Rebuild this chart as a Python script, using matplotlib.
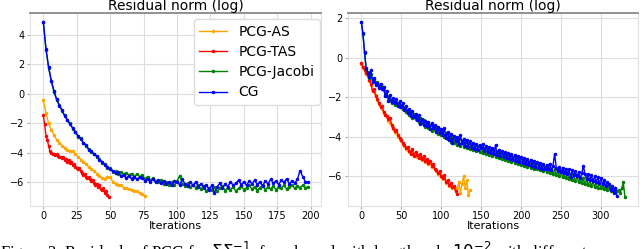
import numpy as np
import matplotlib
matplotlib.use("Agg")
import matplotlib.pyplot as plt

# ---- data: log residual norm per iteration ----
labels = ["PCG-AS", "PCG-TAS", "PCG-Jacobi", "CG"]
colors = ["orange", "red", "green", "blue"]

# left panel
left_as = [-0.4, -1.3, -2.0, -2.45, -2.8, -3.1, -3.3, -3.5, -3.65, -3.8,
           -3.9, -3.85, -4.05, -4.25, -4.45, -4.6, -4.75, -4.95, -5.1, -5.25,
           -5.4, -5.55, -5.7, -5.75, -5.6, -5.65, -5.95, -6.1, -6.15, -6.2,
           -6.35, -6.4, -6.45, -6.5, -6.55, -6.6, -6.7, -6.8, -6.95]  # step 2
left_tas = [-1.46, -2.07, -2.86, -3.1, -3.55, -3.9, -4.0, -4.1, -4.05, -4.15,
            -4.1, -4.2, -4.3, -4.25, -4.35, -4.3, -4.45, -4.4, -4.6, -4.5,
            -4.7, -4.6, -4.8, -4.75, -4.95, -5.0, -5.1, -5.0, -5.25, -5.35,
            -5.5, -5.4, -5.6, -5.7, -5.65, -5.8, -5.9, -5.85, -6.05, -6.15,
            -6.1, -6.3, -6.2, -6.45, -6.5, -6.4, -6.7, -6.6, -6.85, -7.0]  # step 1
left_jac = [4.85, 3.0, 1.75, 0.85, 0.1, -0.4, -0.75, -1.15, -1.45, -1.8,
            -2.0, -2.35, -2.55, -2.9, -3.0, -3.35, -3.5, -3.75, -3.95, -4.05,
            -4.25, -4.4, -4.65, -4.75, -5.0, -5.05, -5.3, -5.25, -5.4, -5.3,
            -5.45, -5.35, -5.5, -5.4, -5.6, -5.45, -5.6, -5.5, -5.75, -5.6,
            -5.85, -5.7, -5.9, -6.0, -5.85, -6.1, -5.95, -6.15, -6.0, -6.2,
            -5.9, -5.55, -6.1, -6.25, -6.05, -6.3, -6.15, -6.35, -6.2, -6.45,
            -6.25, -6.6, -6.35, -6.5, -6.3, -6.6, -6.4, -6.25, -6.55, -6.35,
            -6.5, -6.3, -6.6, -6.4, -6.25, -6.5, -6.35, -6.2, -6.45, -6.3,
            -6.55, -6.35, -6.2, -6.5, -6.3, -6.45, -6.25, -6.5, -6.3, -6.4,
            -6.2, -6.45, -6.3, -6.15, -6.4, -6.25, -6.35, -6.2, -6.35, -6.3]  # step 2
left_cg = [4.9, 3.05, 1.8, 0.9, 0.2, -0.36, -0.8, -1.1, -1.5, -1.75,
           -2.07, -2.3, -2.6, -2.85, -3.05, -3.3, -3.45, -3.8, -3.9, -4.1,
           -4.2, -4.45, -4.6, -4.8, -4.95, -5.1, -5.2, -5.35, -5.3, -5.55,
           -5.5, -5.7, -5.55, -5.75, -5.6, -5.8, -5.65, -5.7, -5.9, -5.75,
           -5.95, -5.8, -6.0, -5.85, -6.05, -5.9, -6.1, -5.95, -6.2, -5.9,
           -6.0, -6.15, -5.8, -6.1, -6.25, -6.0, -6.2, -5.95, -6.3, -6.1,
           -6.35, -6.15, -6.5, -6.2, -6.7, -6.3, -6.05, -6.4, -6.1, -6.3,
           -5.95, -6.2, -6.05, -5.85, -6.15, -5.95, -6.2, -5.9, -6.1, -5.85,
           -6.15, -5.95, -6.25, -5.9, -6.1, -5.8, -6.05, -5.9, -6.15, -5.85,
           -6.0, -5.75, -6.1, -5.9, -6.05, -5.8, -5.2, -5.6, -5.95, -6.0]  # step 2

# right panel
right_as = [-0.3, -0.5, -0.65, -0.8, -0.9, -1.15, -1.35, -1.65, -1.7, -1.9,
            -2.15, -2.35, -2.45, -2.6, -2.8, -2.85, -3.0, -3.2, -3.3, -3.45,
            -3.6, -3.75, -3.8, -4.0, -4.1, -4.2, -4.35, -4.45, -4.6, -4.65,
            -4.75, -4.8, -4.7, -4.9, -4.85, -5.0, -5.0, -4.95, -5.15, -5.05,
            -5.25, -5.2, -5.35, -5.3, -5.5, -5.45, -5.65, -5.75, -5.9, -5.85,
            -6.05, -6.15, -6.05, -6.35, -6.25, -6.5, -6.4, -6.6, -6.55, -6.7,
            -6.6, -6.3, -6.85, -6.4, -6.0, -6.6, -6.2, -6.95, -6.7]  # step 2
right_tas = [-0.24, -0.45, -0.6, -0.75, -0.85, -1.1, -1.3, -1.7, -1.6, -1.95,
             -2.1, -2.3, -2.5, -2.45, -2.75, -2.9, -2.95, -3.1, -3.05, -3.4,
             -3.55, -3.7, -3.65, -3.9, -4.05, -4.15, -4.3, -4.4, -4.55, -4.5,
             -4.7, -4.85, -4.6, -4.95, -4.75, -4.9, -5.05, -4.85, -5.1, -4.95,
             -5.2, -5.1, -5.3, -5.2, -5.45, -5.35, -5.6, -5.7, -5.85, -5.75,
             -6.0, -6.1, -5.95, -6.3, -6.2, -6.45, -6.35, -6.55, -6.5, -6.75,
             -6.9]  # step 2
right_jac = [1.8, 1.2, 0.25, -0.55, -0.7, -1.0, -0.8, -1.15, -1.05, -1.3,
             -1.2, -1.45, -1.35, -1.55, -1.65, -1.85, -1.95, -2.0, -2.15, -2.3,
             -2.1, -2.4, -2.35, -2.3, -2.5, -2.4, -2.6, -2.5, -2.75, -2.65,
             -2.9, -2.75, -3.05, -2.85, -3.1, -2.95, -3.25, -3.05, -3.3, -3.15,
             -3.5, -3.3, -3.55, -3.4, -3.7, -3.45, -3.65, -3.5, -3.85, -3.6,
             -3.9, -3.65, -4.0, -3.8, -4.1, -3.85, -4.25, -3.95, -4.3, -4.05,
             -4.4, -4.1, -4.45, -4.2, -4.5, -4.25, -4.55, -4.3, -4.6, -4.35,
             -4.65, -4.4, -4.7, -4.45, -4.75, -4.5, -4.8, -4.55, -4.85, -4.6,
             -4.9, -4.65, -4.95, -4.7, -5.0, -4.75, -5.05, -4.8, -5.1, -4.85,
             -5.15, -4.9, -5.2, -4.95, -5.25, -5.0, -5.3, -5.05, -5.35, -5.1,
             -5.4, -5.15, -5.45, -5.2, -5.5, -5.25, -5.55, -5.3, -5.6, -5.35,
             -5.65, -5.4, -5.7, -5.45, -5.75, -5.5, -5.8, -5.55, -5.85, -5.6,
             -5.9, -5.65, -5.95, -5.7, -6.0, -5.75, -6.05, -5.8, -6.1, -5.85,
             -6.15, -5.9, -6.2, -5.95, -6.25, -6.0, -6.3, -6.05, -6.35, -6.1,
             -6.4, -6.15, -6.45, -6.2, -6.5, -6.25, -6.55, -6.3, -6.6, -6.35,
             -6.6, -6.4, -6.65, -6.45, -6.7, -6.5, -6.75, -6.55, -6.8, -6.6,
             -6.75, -6.7, -6.85, -6.6, -6.3, -7.05]  # step 2
right_cg = [1.83, 1.24, 0.3, -0.5, -0.75, -0.95, -0.6, -1.2, -1.0, -1.35,
            -1.25, -1.5, -1.3, -1.6, -1.45, -1.95, -1.7, -2.2, -1.9, -2.25,
            -2.05, -2.3, -2.1, -2.45, -2.2, -2.5, -2.3, -2.65, -2.45, -2.8,
            -2.6, -2.95, -2.7, -3.0, -2.85, -3.15, -2.9, -3.35, -3.1, -3.4,
            -3.2, -3.45, -3.25, -3.6, -3.3, -3.55, -3.4, -3.75, -3.5, -3.8,
            -3.6, -3.9, -3.55, -4.05, -3.75, -4.15, -3.85, -4.3, -3.95, -4.2,
            -4.0, -4.35, -3.9, -4.3, -4.1, -4.45, -4.15, -4.5, -4.2, -4.55,
            -4.3, -4.6, -4.35, -4.65, -4.4, -4.55, -4.35, -4.7, -4.45, -4.75,
            -4.5, -4.8, -4.55, -4.85, -4.4, -4.9, -4.65, -4.95, -4.7, -5.0,
            -4.75, -5.05, -4.8, -5.1, -4.85, -5.15, -4.9, -5.2, -4.95, -5.25,
            -5.0, -5.3, -5.05, -5.35, -5.1, -5.4, -5.15, -5.45, -5.2, -5.5,
            -5.25, -5.55, -5.3, -5.6, -5.35, -5.65, -5.4, -5.6, -5.35, -5.7,
            -5.45, -4.85, -5.55, -5.75, -5.5, -5.8, -5.55, -5.85, -5.6, -5.9,
            -5.65, -6.05, -5.7, -5.95, -5.75, -6.0, -5.8, -6.1, -5.85, -5.45,
            -5.9, -6.15, -5.9, -6.2, -5.95, -6.25, -6.0, -6.3, -6.05, -6.35,
            -6.1, -6.4, -6.2, -6.5, -6.3, -6.4, -6.7, -6.5, -6.85, -6.6,
            -7.0]  # step 2

left_series = [(left_as, 2), (left_tas, 1), (left_jac, 2), (left_cg, 2)]
right_series = [(right_as, 2), (right_tas, 2), (right_jac, 2), (right_cg, 2)]

caption = ("Figure 3: Residuals of PCG for $\\Sigma\\Sigma^{-1}$, for a kernel "
           "with lengthscale $10^{-2}$ with different preconditioners and")

fig = plt.figure(figsize=(6.4, 2.49), dpi=100)
ax1 = fig.add_axes([0.047, 0.173, 0.455, 0.775])
ax2 = fig.add_axes([0.544, 0.173, 0.453, 0.775])

for ax, series in [(ax1, left_series), (ax2, right_series)]:
    for (vals, step), lab, col in zip(series, labels, colors):
        x = np.arange(len(vals)) * step
        ax.plot(x, vals, color=col, lw=1.0, marker='.', ms=3, label=lab)
    ax.set_title("Residual norm (log)", fontsize=10, pad=1)
    ax.set_xlabel("Iterations", fontsize=8, labelpad=0)
    ax.grid(True, color='#dddddd', lw=0.8)
    ax.tick_params(labelsize=7, length=2, color='#aaaaaa', pad=2)
    for s in ['left', 'right', 'bottom']:
        ax.spines[s].set_color('#e0e0e0')
    ax.spines['top'].set_color('#888888')
    ax.spines['top'].set_linewidth(1.3)

ax1.set_xticks([0, 25, 50, 75, 100, 125, 150, 175, 200])
ax1.set_yticks([-6, -4, -2, 0, 2, 4])
ax2.set_xticks([0, 50, 100, 150, 200, 250, 300])
ax2.set_yticks([-6, -4, -2, 0, 2])

ax1.legend(loc='upper right', bbox_to_anchor=(1.0, 0.975), fontsize=10,
           labelspacing=0.45, handlelength=2.0, borderaxespad=0.1,
           framealpha=1, edgecolor='#dddddd')

fig.text(0.0, 1 - 258 / 249, caption, fontsize=12, family='Liberation Serif',
         ha='left', va='baseline')

fig.savefig("out.png", dpi=100)
